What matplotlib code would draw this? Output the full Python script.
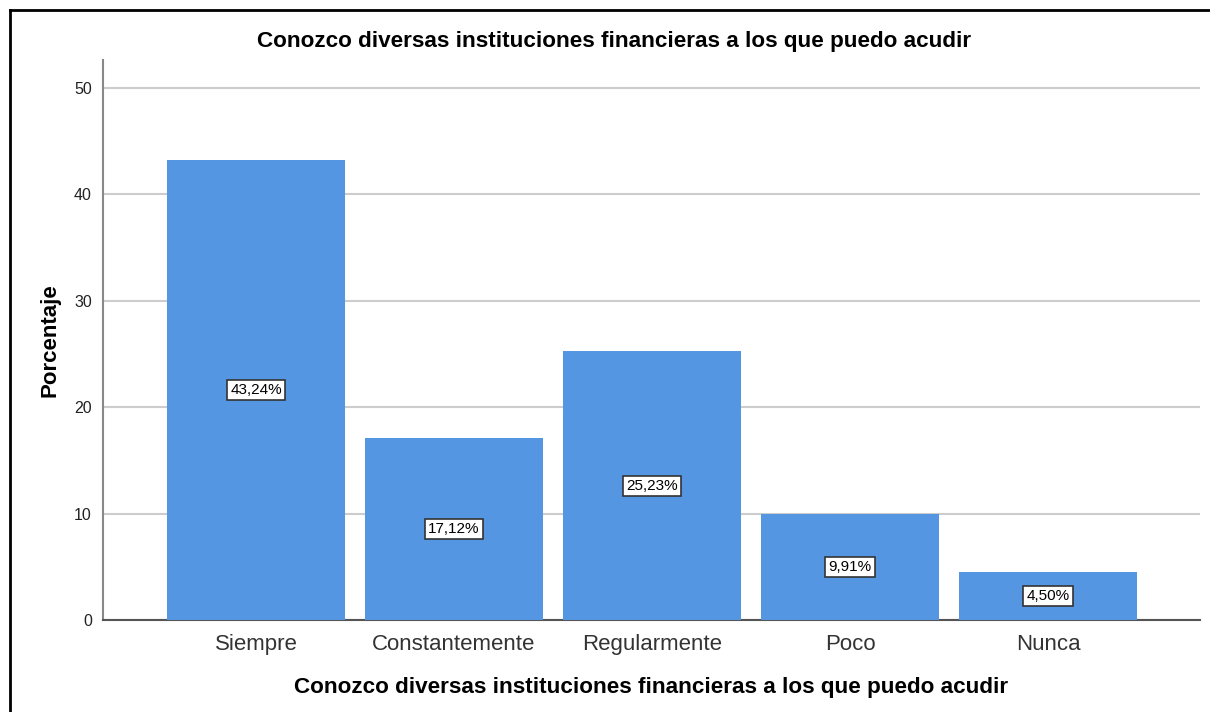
import numpy as np
import matplotlib.pyplot as plt
from matplotlib.lines import Line2D

categorias = ['Siempre', 'Constantemente', 'Regularmente', 'Poco', 'Nunca']
porcentajes = [43.24, 17.12, 25.23, 9.91, 4.50]
titulo = 'Conozco diversas instituciones financieras a los que puedo acudir'

plt.rcParams['font.family'] = ['Liberation Sans', 'DejaVu Sans']

fig = plt.figure(figsize=(12.1, 7.12), dpi=100)
W, H = 1210, 712
# axes box in pixels: left 103, right 1200, bottom 620, top 60
ax = fig.add_axes([103 / W, (H - 620) / H, (1200 - 103) / W, (620 - 60) / H])

x = np.arange(len(categorias))
ax.bar(x, porcentajes, width=0.9, color='#5596e3', zorder=3)

for xi, v in zip(x, porcentajes):
    ax.text(xi, v / 2, '{:.2f}%'.format(v).replace('.', ','), ha='center', va='center',
            fontsize=11, color='black', zorder=4,
            bbox=dict(boxstyle='square,pad=0.2', facecolor='white', edgecolor='#333333', linewidth=1.2))

ax.set_xlim(-0.773, 4.768)
ax.set_ylim(0, 52.6)
ax.set_yticks([0, 10, 20, 30, 40, 50])
ax.set_xticks(x)
ax.set_xticklabels(categorias, fontsize=16, color='#333333')
ax.tick_params(axis='y', length=0, labelsize=11.5, pad=8, labelcolor='#222222')
ax.tick_params(axis='x', length=0, pad=10)
ax.yaxis.grid(True, color='#cccccc', linewidth=1.5, zorder=0)
ax.set_axisbelow(True)

for s in ['top', 'right']:
    ax.spines[s].set_visible(False)
ax.spines['left'].set_color('#888888')
ax.spines['left'].set_linewidth(1.5)
ax.spines['bottom'].set_color('#555555')
ax.spines['bottom'].set_linewidth(1.5)

ax.set_ylabel('Porcentaje', fontsize=16, fontweight='bold', labelpad=10)
ax.set_xlabel(titulo, fontsize=16.2, fontweight='bold', labelpad=16)
fig.text(614 / W, 1 - 42 / H, titulo, ha='center', va='center',
         fontsize=16.2, fontweight='bold')

# outer frame (top and left edges)
fig.add_artist(Line2D([10 / W, 1], [1 - 10 / H, 1 - 10 / H], color='black', linewidth=2))
fig.add_artist(Line2D([10 / W, 10 / W], [0, 1 - 10 / H], color='black', linewidth=2))

plt.savefig('out.png', dpi=100)
